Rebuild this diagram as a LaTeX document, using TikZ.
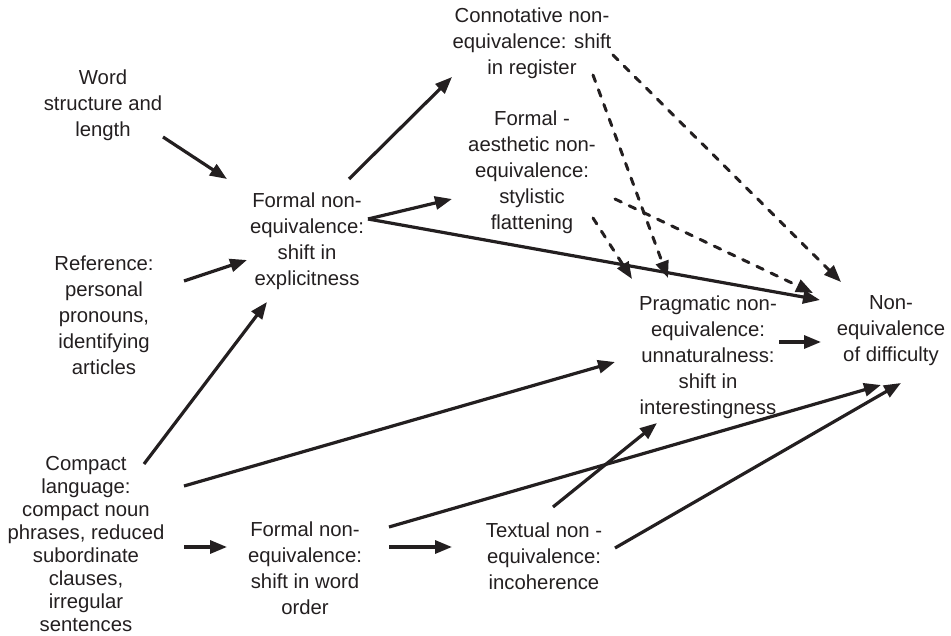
\documentclass[tikz,border=0pt]{standalone}
\usepackage{fontspec}
\setmainfont{Liberation Sans}
\usetikzlibrary{arrows.meta,calc}
\definecolor{ink}{HTML}{231F20}
\tikzset{
  lbl/.style={align=center, inner sep=0pt, text=ink,
    font=\fontsize{20.3}{26}\selectfont},
  arr/.style={draw=ink, line width=3.2pt,
    -{Triangle[length=17pt,width=13pt]}},
  darr/.style={draw=ink, line width=3pt, line cap=round,
    dash pattern=on 7pt off 8.7pt,
    -{Triangle[length=17pt,width=13pt]}}
}
\begin{document}
\begin{tikzpicture}[x=1pt,y=-1pt]
\useasboundingbox (0,0) rectangle (951,636);

% factors on the left
\node[lbl] (word) at (103,105) {Word\\structure and\\length};
\node[lbl] (ref) at (104,315) {Reference:\\personal\\pronouns,\\identifying\\articles};
\node[lbl, font=\fontsize{20.3}{23}\selectfont] (compact) at (86,544)
  {Compact\\language:\\compact noun\\phrases, reduced\\subordinate\\clauses,\\irregular\\sentences};

% intermediate shifts
\node[lbl] (fexp) at (307,241) {Formal non-\\equivalence:\\shift in\\explicitness};
\node[lbl] (fword) at (305,568) {Formal non-\\equivalence:\\shift in word\\order};
\node[lbl] (conn) at (532,43) {Connotative non-\\equivalence: shift\\in register};
\node[lbl] (faes) at (532,172) {Formal -\\aesthetic non-\\equivalence:\\stylistic\\flattening};
\node[lbl] (prag) at (708,357) {Pragmatic non-\\equivalence:\\unnaturalness:\\shift in\\interestingness};
\node[lbl] (textual) at (544,556) {Textual non -\\equivalence:\\incoherence};

% outcome
\node[lbl] (ned) at (891,331) {Non-\\equivalence\\of difficulty};

% solid connectors
\draw[arr] ($(word)+(60,32)$) -- ($(fexp)+(-80,-62)$);
\draw[arr] ($(ref)+(80,-34)$) -- ($(fexp)+(-60,19)$);
\draw[arr] ($(compact)+(58,-80)$) -- ($(fexp)+(-40,61)$);
\draw[arr] ($(fexp)+(42,-62)$) -- ($(conn)+(-80,34)$);
\draw[arr] ($(fexp)+(61,-22)$) -- ($(faes)+(-80,27)$);
\draw[arr] ($(fexp)+(61,-22)$) -- ($(ned)+(-71,-31)$);
\draw[arr] ($(compact)+(98,-58)$) -- ($(prag)+(-93,5)$);
\draw[arr] ($(compact)+(98,3)$) -- ($(fword)+(-78,-21)$);
\draw[arr] ($(fword)+(84,-21)$) -- ($(textual)+(-92,-9)$);
\draw[arr] ($(fword)+(84,-41)$) -- ($(ned)+(-10,54)$);
\draw[arr] ($(textual)+(9,-49)$) -- ($(prag)+(-51,66)$);
\draw[arr] ($(textual)+(71,-8)$) -- ($(ned)+(10,52)$);
\draw[arr] ($(prag)+(71,-15)$) -- ($(ned)+(-70,11)$);

% dashed connectors
\draw[darr] ($(conn)+(81,12)$) -- ($(ned)+(-50,-49)$);
\draw[darr] ($(conn)+(61,32)$) -- ($(prag)+(-40,-79)$);
\draw[darr] ($(faes)+(61,46)$) -- ($(prag)+(-76,-78)$);
\draw[darr] ($(faes)+(83,27)$) -- ($(ned)+(-78,-38)$);
\end{tikzpicture}
\end{document}
